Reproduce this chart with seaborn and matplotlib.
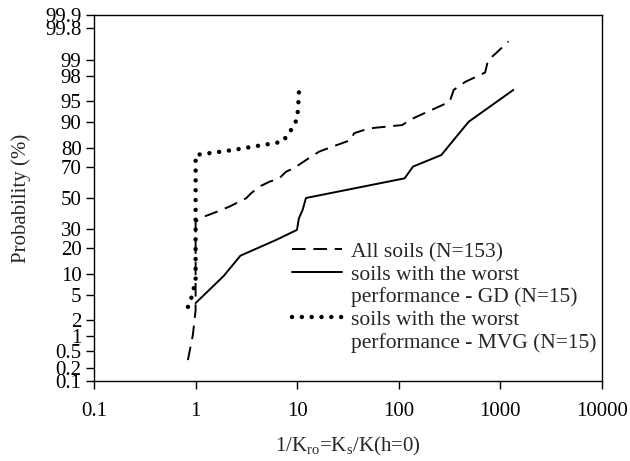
import math
import numpy as np
import pandas as pd
import seaborn as sns
import matplotlib
matplotlib.use("Agg")
import matplotlib.pyplot as plt
from matplotlib.lines import Line2D
from matplotlib.ticker import FixedLocator, FixedFormatter, NullLocator

# Cumulative distributions of 1/Kro (x) against probability in percent (y)
all_x = [0.84, 0.94, 1.0, 1.0, 1.18, 1.48, 2.15, 3.14, 3.52, 4.24, 5.32, 6.66, 7.75,
         9.35, 12.2, 16.4, 22.2, 33.6, 36.3, 50.8, 108, 134, 317, 347, 450, 708,
         755, 888, 1200]
all_p = [0.31, 1.04, 2.9, 34.4, 37.4, 39.8, 44.2, 49.8, 53.2, 57.6, 60.8, 63.0, 67.1,
         69.4, 73.9, 78.3, 80.7, 83.6, 86.3, 88.0, 89.1, 90.9, 94.8, 96.6, 97.5, 98.3,
         99.0, 99.25, 99.59]

gd_x = [1.0, 1.89, 2.76, 6.18, 9.94, 10.4, 11.3, 12.2, 114, 138, 262, 487, 1340]
gd_p = [3.8, 9.4, 16.5, 23.9, 29.5, 36.6, 42.0, 50.0, 63.0, 70.2, 76.6, 90.1, 96.6]

mvg_x = [0.84, 0.89, 0.93, 0.98, 1.0, 1.0, 2.32, 7.18, 8.03, 9.0, 9.85, 10.2, 10.4]
mvg_p = [3.3, 4.0, 5.4, 7.1, 8.0, 76.6, 79.1, 82.9, 85.6, 88.2, 90.6, 93.2, 96.4]

labels = ["All soils (N=153)",
          "soils with the worst\nperformance - GD (N=15)",
          "soils with the worst\nperformance - MVG (N=15)"]

prob_ticks = [0.1, 0.2, 0.5, 1, 2, 5, 10, 20, 30, 50, 70, 80, 90, 95, 98, 99, 99.8, 99.9]
prob_labels = ["0.1", "0.2", "0.5", "1", "2", "5", "10", "20", "30", "50", "70", "80",
               "90", "95", "98", "99", "99.8", "99.9"]
x_ticks = [0.1, 1, 10, 100, 1000, 10000]
x_labels = ["0.1", "1", "10", "100", "1000", "10000"]

# --- normal probability scale -------------------------------------------------
_a = [-3.969683028665376e+01, 2.209460984245205e+02, -2.759285104469687e+02,
      1.383577518672690e+02, -3.066479806614716e+01, 2.506628277459239e+00]
_b = [-5.447609879822406e+01, 1.615858368580409e+02, -1.556989798598866e+02,
      6.680131188771972e+01, -1.328068155288572e+01]
_c = [-7.784894002430293e-03, -3.223964580411365e-01, -2.400758277161838e+00,
      -2.549671344504990e+00, 4.374664141464968e+00, 2.938163982698783e+00]
_d = [7.784695709041462e-03, 3.224671290700398e-01, 2.445134137142996e+00,
      3.754408661907416e+00]


def _ppf(q):
    q = np.clip(np.asarray(q, dtype=float), 1e-9, 1 - 1e-9)
    out = np.empty_like(q)
    plow = 0.02425
    lo = q < plow
    hi = q > 1 - plow
    mid = ~(lo | hi)
    r = np.sqrt(-2 * np.log(q[lo]))
    out[lo] = ((((((_c[0]*r+_c[1])*r+_c[2])*r+_c[3])*r+_c[4])*r+_c[5]) /
               ((((_d[0]*r+_d[1])*r+_d[2])*r+_d[3])*r+1))
    r = np.sqrt(-2 * np.log(1 - q[hi]))
    out[hi] = -((((((_c[0]*r+_c[1])*r+_c[2])*r+_c[3])*r+_c[4])*r+_c[5]) /
                ((((_d[0]*r+_d[1])*r+_d[2])*r+_d[3])*r+1))
    u = q[mid] - 0.5
    r = u * u
    out[mid] = ((((((_a[0]*r+_a[1])*r+_a[2])*r+_a[3])*r+_a[4])*r+_a[5])*u /
                (((((_b[0]*r+_b[1])*r+_b[2])*r+_b[3])*r+_b[4])*r+1))
    return out


_erf = np.vectorize(math.erf)


def prob_forward(p):
    return _ppf(np.asarray(p, dtype=float) / 100.0)


def prob_inverse(z):
    z = np.asarray(z, dtype=float)
    return 50.0 * (1.0 + _erf(z / math.sqrt(2.0)))


# --- figure ---------------------------------------------------------------------
sns.set_theme(style="ticks")
plt.rcParams["font.family"] = ["Liberation Serif", "DejaVu Serif"]
plt.rcParams["mathtext.fontset"] = "custom"
plt.rcParams["mathtext.rm"] = "Liberation Serif"
plt.rcParams["mathtext.it"] = "Liberation Serif:italic"

fig = plt.figure(figsize=(6.3, 4.61), dpi=100)
ax = fig.add_axes([94 / 630, 1 - 381 / 461, (602 - 94) / 630, (381 - 15) / 461])

df_all = pd.DataFrame({"x": all_x, "p": all_p})
df_gd = pd.DataFrame({"x": gd_x, "p": gd_p})
df_mvg = pd.DataFrame({"x": mvg_x, "p": mvg_p})

sns.lineplot(data=df_all, x="x", y="p", sort=False, estimator=None, ax=ax,
             color="black", lw=1.4, label=labels[0])
ax.lines[-1].set_dashes([7, 4])
sns.lineplot(data=df_gd, x="x", y="p", sort=False, estimator=None, ax=ax,
             color="black", lw=1.4, label=labels[1])
sns.lineplot(data=df_mvg, x="x", y="p", sort=False, estimator=None, ax=ax,
             color="black", lw=3.2, label=labels[2])
ax.lines[-1].set_dashes([0.01, 2.2])
ax.lines[-1].set_dash_capstyle("round")

ax.set_xscale("log")
ax.set_yscale("function", functions=(prob_forward, prob_inverse))
ax.set_xlim(0.1, 10000)
ax.set_ylim(0.1, 99.9)

ax.yaxis.set_major_locator(FixedLocator(prob_ticks))
ax.yaxis.set_major_formatter(FixedFormatter(prob_labels))
ax.yaxis.set_minor_locator(NullLocator())
ax.xaxis.set_major_locator(FixedLocator(x_ticks))
ax.xaxis.set_major_formatter(FixedFormatter(x_labels))
ax.xaxis.set_minor_locator(NullLocator())

ax.tick_params(axis="both", direction="out", length=6, width=1, color="black",
               labelsize=15, labelcolor="black")
ax.tick_params(axis="x", pad=9)
ax.tick_params(axis="y", pad=3)
for s in ax.spines.values():
    s.set_color("black")
    s.set_linewidth(1.0)

ax.set_xlabel(r"1/K$_\mathrm{ro}$=K$_\mathrm{s}$/K(h=0)", fontsize=15, labelpad=10)
ax.set_ylabel("Probability (%)", fontsize=15, labelpad=10)

# Legend: each series' sample sits beside the first line of its label,
# continuation lines get an empty handle.
handles, texts = ax.get_legend_handles_labels()
leg_handles, leg_texts = [], []
for h, t in zip(handles, texts):
    parts = t.split("\n")
    leg_handles.append(h)
    leg_texts.append(parts[0])
    for extra in parts[1:]:
        leg_handles.append(Line2D([], [], color="none"))
        leg_texts.append(extra)

ax.legend(leg_handles, leg_texts, loc="upper left", bbox_to_anchor=(0.39, 0.38),
          frameon=False, fontsize=15.5, handlelength=2.3, handletextpad=0.45,
          labelspacing=0.12, borderpad=0, borderaxespad=0)

fig.savefig("out.png", dpi=100, facecolor="white")
